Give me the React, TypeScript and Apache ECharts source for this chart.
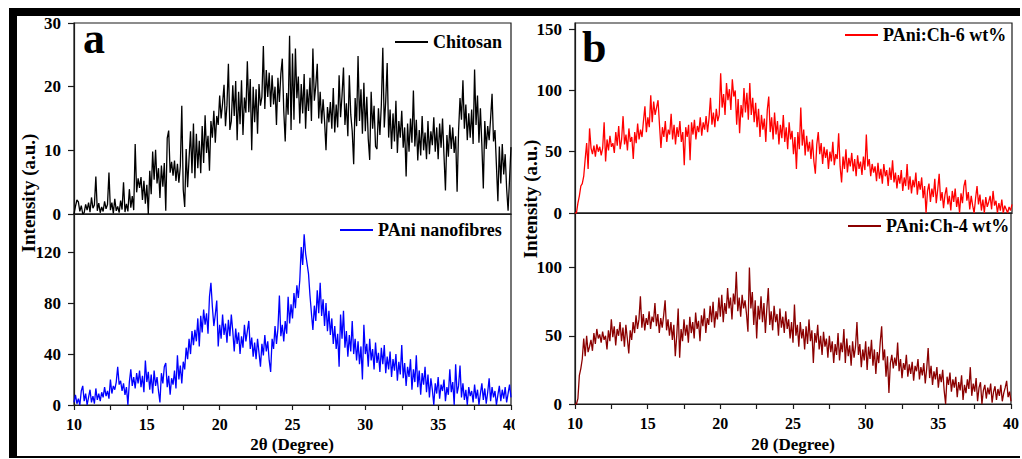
import React, { useEffect, useRef } from "react";
import * as echarts from "echarts";

const thetaStart = 10;
const thetaStep = 0.1;

const chitosan = [
  0.0, 1.2, 2.2, 1.9, 0.4, 1.3, 0.0, 0.2, 1.5, 0.6,
  1.8, 0.3, 2.6, 0.9, 1.4, 5.9, 0.5, 1.7, 0.2, 1.1,
  0.4, 2.0, 0.8, 1.5, 6.5, 0.6, 1.8, 0.1, 2.4, 0.5,
  1.2, 0.2, 2.1, 0.7, 5.0, 0.3, 1.6, 0.4, 3.9, 1.0,
  2.8, 0.6, 11.0, 3.4, 5.6, 4.1, 5.8, 2.2, 5.2, 1.6,
  4.6, 0.0, 6.8, 3.1, 9.8, 5.4, 10.1, 4.8, 7.2, 2.5,
  7.6, 4.3, 8.0, 0.5, 11.9, 13.1, 6.5, 8.2, 6.0, 8.4,
  5.2, 7.9, 4.9, 7.5, 17.0, 3.8, 1.1, 10.2, 4.2, 8.8,
  13.0, 6.4, 14.2, 5.6, 12.6, 7.2, 11.5, 6.4, 13.8, 8.0,
  15.5, 9.6, 12.3, 6.8, 14.6, 12.0, 16.2, 11.2, 15.4, 14.0,
  18.6, 15.0, 17.4, 20.3, 13.8, 17.1, 23.6, 13.2, 14.6, 20.2,
  15.4, 20.9, 11.6, 19.2, 14.1, 21.0, 12.4, 18.3, 15.9, 24.0,
  16.0, 21.2, 10.0, 20.0, 14.4, 19.6, 12.6, 20.4, 17.0, 18.4,
  26.4, 16.5, 22.6, 18.4, 22.2, 16.8, 21.8, 17.2, 20.0, 14.0,
  21.4, 17.6, 22.0, 24.4, 16.2, 11.4, 19.0, 15.6, 28.0, 13.2,
  25.2, 14.8, 26.0, 18.2, 21.6, 14.2, 20.4, 15.8, 22.0, 13.4,
  19.6, 16.2, 21.4, 14.6, 26.0, 17.8, 20.2, 23.6, 15.0, 19.2,
  14.2, 18.0, 14.6, 10.0, 16.8, 14.4, 17.6, 13.4, 19.8, 12.8,
  17.2, 13.6, 21.8, 15.2, 18.6, 23.0, 14.0, 17.4, 12.2, 21.8,
  15.6, 13.0, 7.8, 18.2, 13.8, 24.8, 14.6, 19.6, 12.6, 20.6,
  13.0, 18.4, 11.8, 8.5, 19.2, 13.4, 17.0, 10.6, 10.2, 16.6,
  12.4, 17.2, 26.1, 13.6, 17.8, 23.7, 12.0, 16.4, 10.2, 15.8,
  11.4, 17.8, 9.6, 14.6, 12.0, 16.2, 10.4, 13.6, 5.9, 14.2,
  9.8, 15.0, 11.2, 19.4, 10.6, 14.8, 8.4, 13.2, 9.2, 15.4,
  10.0, 12.8, 8.6, 14.6, 9.4, 13.0, 10.8, 15.2, 9.8, 13.6,
  8.6, 14.2, 10.4, 15.0, 9.2, 3.7, 12.4, 9.0, 14.0, 10.2,
  13.6, 9.6, 12.2, 3.5, 13.0, 18.2, 14.8, 21.0, 13.4, 17.2,
  11.6, 15.8, 12.0, 16.4, 11.0, 22.7, 14.0, 18.6, 11.2, 16.6,
  10.8, 4.0, 14.6, 10.2, 13.8, 11.6, 15.0, 18.9, 11.4, 13.2,
  7.6, 2.0, 10.6, 4.8, 11.0, 6.2, 9.4, 4.0, 0.5, 5.5,
  10.5,
];

const paniNanofibres = [
  2, 8, 1, 5, 0, 11, 15, 3, 9, 0,
  6, 12, 2, 7, 1, 13, 4, 9, 3, 10,
  6, 14, 7, 11, 5, 20, 9, 15, 12, 18,
  30, 16, 19, 11, 17, 8, 14, 0, 18, 28,
  15, 22, 13, 25, 17, 27, 14, 23, 10, 35,
  18, 26, 12, 24, 9, 27, 15, 22, 11, 2,
  25, 17, 30, 33, 14, 23, 8, 21, 16, 27,
  13, 39, 20, 31, 17, 34, 28, 45, 36, 52,
  40, 58, 47, 59, 50, 68, 46, 70, 57, 75,
  63, 72, 56, 85, 96, 77, 62, 71, 82, 46,
  63, 52, 71, 55, 64, 49, 67, 54, 71, 58,
  42, 60, 48, 57, 40, 54, 45, 63, 50, 58,
  66, 44, 53, 38, 49, 36, 52, 41, 30, 48,
  39, 55, 42, 50, 35, 26, 52, 44, 62, 48,
  60, 86, 54, 63, 50, 66, 56, 85, 64, 79,
  68, 88, 76, 94, 84, 98, 124, 110, 134, 119,
  111, 103, 86, 72, 59, 78, 66, 90, 72, 96,
  70, 83, 62, 80, 58, 74, 55, 68, 48, 62,
  44, 56, 30, 71, 52, 74, 45, 58, 38, 55,
  42, 66, 40, 52, 35, 50, 32, 46, 20, 63,
  40, 48, 30, 52, 35, 44, 28, 49, 33, 41,
  26, 45, 32, 47, 25, 38, 28, 42, 22, 36,
  27, 40, 19, 34, 24, 47, 21, 33, 15, 30,
  22, 36, 12, 28, 18, 39, 14, 27, 8, 25,
  16, 30, 10, 24, 6, 21, 12, 0, 17, 9,
  22, 5, 16, 11, 20, 3, 14, 8, 28, 10,
  18, 0, 32, 9, 15, 31, 6, 17, 4, 12,
  0, 14, 7, 11, 2, 16, 5, 12, 0, 9,
  17, 4, 13, 1, 10, 21, 3, 14, 6, 11,
  0, 8, 15, 3, 12, 5, 14, 2, 9, 16,
  6,
];

const paniCh6 = [
  0, 0, 8, 14, 22, 24, 30, 44, 57, 36,
  69, 53, 48, 55, 46, 56, 50, 54, 47, 53,
  74, 42, 60, 51, 63, 54, 57, 49, 66, 55,
  71, 52, 60, 79, 56, 64, 51, 69, 58, 62,
  44, 66, 57, 73, 60, 68, 62, 75, 87, 66,
  78, 70, 96, 74, 91, 80, 86, 92, 72, 53,
  70, 62, 75, 58, 68, 64, 81, 60, 72, 56,
  70, 62, 75, 58, 66, 39, 70, 62, 72, 43,
  74, 64, 76, 60, 71, 66, 78, 63, 74, 68,
  79, 66, 77, 94, 72, 82, 70, 85, 75, 80,
  114, 86, 97, 80, 106, 92, 101, 84, 109, 95,
  100, 72, 93, 65, 88, 78, 102, 82, 98, 76,
  106, 80, 94, 74, 90, 70, 85, 62, 80, 68,
  77, 58, 84, 95, 66, 78, 60, 82, 64, 75,
  56, 72, 61, 80, 58, 70, 52, 74, 60, 67,
  48, 62, 36, 66, 52, 86, 55, 68, 47, 63,
  50, 58, 44, 60, 42, 32, 56, 66, 48, 57,
  40, 54, 45, 52, 36, 50, 42, 58, 39, 48,
  44, 65, 38, 25, 46, 36, 52, 33, 45, 38,
  49, 34, 44, 30, 47, 36, 42, 31, 46, 35,
  64, 38, 44, 30, 40, 33, 38, 26, 41, 28,
  36, 24, 40, 30, 35, 22, 37, 27, 43, 25,
  33, 20, 31, 24, 35, 18, 29, 22, 40, 19,
  30, 16, 27, 21, 33, 15, 26, 19, 29, 12,
  22, 0, 18, 24, 9, 20, 13, 28, 8, 19,
  32, 10, 17, 4, 15, 21, 7, 14, 2, 18,
  9, 20, 5, 13, 0, 16, 8, 22, 27, 10,
  17, 3, 14, 6, 0, 12, 22, 7, 15, 2,
  11, 0, 13, 5, 9, 14, 3, 18, 6, 10,
  0, 8, 2, 11, 0, 6, 3, 0, 5, 2,
  7,
];

const paniCh4 = [
  0, 0, 4, 21, 26, 33, 48, 35, 50, 38,
  42, 47, 39, 52, 44, 55, 48, 51, 45, 53,
  47, 50, 40, 54, 46, 62, 49, 57, 43, 55,
  50, 60, 46, 56, 42, 58, 48, 37, 54, 47,
  60, 52, 65, 55, 62, 79, 56, 66, 54, 63,
  58, 68, 55, 64, 60, 74, 57, 66, 52, 63,
  56, 65, 76, 54, 62, 50, 60, 47, 58, 35,
  50, 70, 34, 55, 46, 62, 50, 58, 45, 64,
  52, 60, 48, 67, 55, 61, 46, 65, 57, 70,
  52, 63, 58, 72, 60, 75, 56, 68, 62, 78,
  64, 80, 60, 74, 66, 85, 70, 78, 62, 81,
  73, 97, 68, 78, 64, 80, 70, 76, 66, 53,
  100, 70, 82, 58, 76, 48, 72, 62, 79, 60,
  74, 52, 70, 85, 58, 68, 54, 72, 60, 66,
  50, 70, 56, 64, 52, 68, 55, 62, 48, 60,
  45, 73, 50, 58, 42, 60, 48, 55, 40, 57,
  44, 62, 46, 54, 30, 52, 45, 58, 40, 50,
  36, 53, 42, 48, 34, 50, 38, 46, 30, 44,
  36, 52, 32, 45, 38, 55, 30, 48, 35, 43,
  28, 46, 34, 42, 60, 36, 44, 27, 40, 32,
  46, 25, 42, 33, 47, 28, 40, 22, 38, 30,
  45, 57, 32, 40, 20, 35, 8, 30, 36, 26,
  34, 28, 45, 24, 33, 19, 30, 25, 36, 20,
  29, 22, 31, 17, 28, 24, 33, 18, 27, 21,
  30, 15, 26, 41, 19, 28, 14, 24, 18, 27,
  12, 22, 16, 25, 10, 0, 20, 14, 23, 9,
  18, 12, 20, 5, 16, 10, 21, 3, 14, 8,
  18, 11, 27, 6, 15, 9, 19, 2, 12, 16,
  0, 10, 14, 4, 12, 7, 15, 1, 9, 13,
  3, 11, 6, 14, 2, 8, 12, 17, 5, 9,
  2,
];

const xTicks = [10, 15, 20, 25, 30, 35, 40];
const yTicksATop = [0, 10, 20, 30];
const yTicksABottom = [0, 40, 80, 120];
const yTicksBTop = [0, 50, 100, 150];
const yTicksBBottom = [0, 50, 100];

const seriesNames = ["Chitosan", "PAni nanofibres", "PAni:Ch-6 wt%", "PAni:Ch-4 wt%"];
const seriesColors = ["#000000", "#0000ff", "#ff0000", "#8b0000"];

const FONT = "Liberation Serif";
const AXIS_COLOR = "#1a1a1a";

function toPairs(values: number[]) {
  return values.map((v, i) => [Math.round((thetaStart + i * thetaStep) * 100) / 100, v]);
}

export default function App() {
  const ref = useRef<HTMLDivElement>(null);

  useEffect(() => {
    if (!ref.current) return;
    const chart = echarts.init(ref.current, null, { renderer: "svg" });

    const grids = [
      { left: 74, top: 23, width: 437, height: 191 },
      { left: 74, top: 214, width: 437, height: 191 },
      { left: 575, top: 23, width: 437, height: 190 },
      { left: 575, top: 213, width: 437, height: 191 },
    ].map((g) => ({ ...g, show: true, borderColor: AXIS_COLOR, borderWidth: 1.2, backgroundColor: "transparent" }));

    const labelStyle = { color: "#000", fontFamily: FONT, fontWeight: "bold" as const, fontSize: 17 };
    const xLabelStyle = { color: "#000", fontFamily: FONT, fontWeight: "bold" as const, fontSize: 16, lineHeight: 14 };
    const axisLine = { show: true, lineStyle: { color: AXIS_COLOR, width: 1.2 } };

    const xAxes = [0, 1, 2, 3].map((i) => {
      const bottom = i % 2 === 1;
      return {
        type: "value",
        gridIndex: i,
        min: xTicks[0],
        max: xTicks[xTicks.length - 1],
        interval: 5,
        axisLine,
        splitLine: { show: false },
        axisTick: { show: bottom, inside: false, length: 5, lineStyle: { color: AXIS_COLOR, width: 1.2 } },
        minorTick: { show: bottom, splitNumber: 2, length: 5, lineStyle: { color: AXIS_COLOR, width: 1.2 } },
        minorSplitLine: { show: false },
        axisLabel: { show: bottom, margin: 12, ...xLabelStyle },
      };
    });

    const yConf = [
      { max: 30, ticks: yTicksATop },
      { max: 150, ticks: yTicksABottom },
      { max: 155, ticks: yTicksBTop },
      { max: 140, ticks: yTicksBBottom },
    ];
    const yAxes = yConf.map((c, i) => ({
      type: "value",
      gridIndex: i,
      min: 0,
      max: c.max,
      axisLine,
      splitLine: { show: false },
      axisTick: { show: true, inside: false, length: 6, customValues: c.ticks, lineStyle: { color: AXIS_COLOR, width: 1.2 } },
      axisLabel: { show: true, margin: 13, customValues: c.ticks, ...labelStyle },
    }));

    const datasets = [chitosan, paniNanofibres, paniCh6, paniCh4];
    const series = datasets.map((d, i) => ({
      type: "line",
      name: seriesNames[i],
      xAxisIndex: i,
      yAxisIndex: i,
      data: toPairs(d),
      showSymbol: false,
      symbol: "none",
      lineStyle: { color: seriesColors[i], width: 1.3 },
      itemStyle: { color: seriesColors[i] },
      color: seriesColors[i],
    }));

    const legendPos = [
      { left: 395, top: 33 },
      { left: 340, top: 221 },
      { left: 845, top: 26 },
      { left: 848, top: 217 },
    ];
    const legends = legendPos.map((p, i) => ({
      data: [seriesNames[i]],
      left: p.left,
      top: p.top,
      padding: 0,
      icon: "rect",
      itemWidth: 33,
      itemHeight: 2,
      itemGap: 0,
      textStyle: { color: "#000", fontFamily: FONT, fontWeight: "bold", fontSize: 18 },
    }));

    const textStyleBold = (size: number) => ({ fontFamily: FONT, fontWeight: "bold", fontSize: size, fill: "#000" });

    chart.setOption({
      animation: false,
      backgroundColor: "#ffffff",
      grid: grids,
      xAxis: xAxes,
      yAxis: yAxes,
      legend: legends,
      series,
      graphic: [
        { type: "rect", shape: { x: 9, y: 8, width: 1011, height: 8 }, style: { fill: "#000" }, z: 100 },
        { type: "rect", shape: { x: 9, y: 8, width: 8, height: 450 }, style: { fill: "#000" }, z: 100 },
        { type: "rect", shape: { x: 9, y: 456, width: 1011, height: 2 }, style: { fill: "#000" }, z: 100 },
        { type: "rect", shape: { x: 515, y: 414, width: 40, height: 20 }, style: { fill: "#fff" }, z: 100 },
        {
          type: "text", x: 83, y: 38, z: 100,
          style: { text: "a", ...textStyleBold(44), align: "left", verticalAlign: "middle" },
        },
        {
          type: "text", x: 582, y: 47, z: 100,
          style: { text: "b", ...textStyleBold(44), align: "left", verticalAlign: "middle" },
        },
        {
          type: "text", x: 292, y: 444, z: 100,
          style: { text: "2θ (Degree)", ...textStyleBold(17), lineHeight: 15, align: "center", verticalAlign: "middle" },
        },
        {
          type: "text", x: 793, y: 444, z: 100,
          style: { text: "2θ (Degree)", ...textStyleBold(17), lineHeight: 15, align: "center", verticalAlign: "middle" },
        },
        {
          type: "text", x: 28, y: 193, rotation: Math.PI / 2, z: 100,
          style: { text: "Intensity (a.u.)", ...textStyleBold(19), align: "center", verticalAlign: "middle" },
        },
        {
          type: "text", x: 530, y: 199, rotation: Math.PI / 2, z: 100,
          style: { text: "Intensity (a.u.)", ...textStyleBold(19), align: "center", verticalAlign: "middle" },
        },
      ],
    });

    return () => chart.dispose();
  }, []);

  return (
    <div
      ref={ref}
      style={{ position: "fixed", left: 0, top: 0, width: 1022, height: 459, background: "#fff" }}
    />
  );
}
